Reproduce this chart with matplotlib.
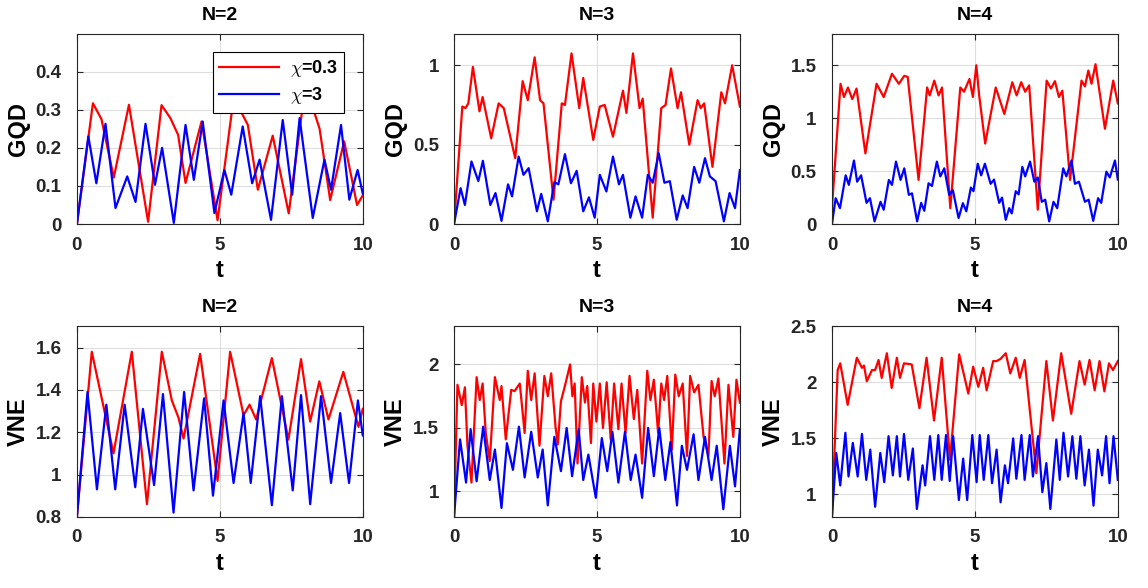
import matplotlib
matplotlib.use("Agg")
import matplotlib.pyplot as plt
from matplotlib.ticker import FormatStrFormatter

plt.rcParams['font.family'] = ['Liberation Sans', 'DejaVu Sans']
plt.rcParams['font.weight'] = 'bold'
plt.rcParams['mathtext.fontset'] = 'cm'

# (t, value), chi=0.3 -> "_a", chi=3 -> "_b"
gqd2_a = [(0, 0), (0.56, 0.317), (0.86, 0.275), (1.29, 0.122), (1.82, 0.313), (2.49, 0.006),
          (2.96, 0.312), (3.27, 0.278), (3.54, 0.234), (3.8, 0.108), (4.36, 0.269), (4.92, 0.01),
          (5.45, 0.312), (5.74, 0.295), (5.98, 0.26), (6.33, 0.09), (6.85, 0.232), (7.41, 0.028),
          (7.9, 0.31), (8.31, 0.292), (8.49, 0.25), (8.86, 0.063), (9.35, 0.217), (9.8, 0.05),
          (10, 0.075)]
gqd2_b = [(0, 0), (0.4, 0.23), (0.68, 0.107), (1.0, 0.263), (1.35, 0.042), (1.76, 0.125),
          (2.05, 0.058), (2.4, 0.263), (2.73, 0.103), (2.98, 0.2), (3.39, 0.003), (3.8, 0.26),
          (4.09, 0.116), (4.4, 0.269), (4.81, 0.029), (5.16, 0.142), (5.4, 0.077), (5.8, 0.256),
          (6.13, 0.107), (6.39, 0.169), (6.79, 0.011), (7.2, 0.273), (7.53, 0.077), (7.79, 0.278),
          (8.25, 0.016), (8.66, 0.169), (8.89, 0.09), (9.24, 0.26), (9.53, 0.064), (9.82, 0.142),
          (10, 0.08)]

gqd3_a = [(0, 0), (0.29, 0.74), (0.4, 0.73), (0.5, 0.76), (0.66, 0.99), (0.89, 0.71), (1.0, 0.8),
          (1.3, 0.54), (1.56, 0.76), (1.74, 0.73), (2.14, 0.415), (2.4, 0.9), (2.58, 0.78),
          (2.82, 1.05), (3.01, 0.78), (3.13, 0.76), (3.48, 0.153), (3.77, 0.76), (3.88, 0.75),
          (4.11, 1.075), (4.38, 0.73), (4.52, 0.92), (4.87, 0.53), (5.1, 0.74), (5.27, 0.75),
          (5.56, 0.55), (5.91, 0.84), (6.03, 0.7), (6.26, 1.075), (6.49, 0.73), (6.6, 0.79),
          (6.95, 0.04), (7.25, 0.73), (7.4, 0.75), (7.59, 0.98), (7.82, 0.73), (7.94, 0.83),
          (8.23, 0.5), (8.52, 0.78), (8.63, 0.73), (8.75, 0.76), (9.04, 0.36), (9.35, 0.83),
          (9.48, 0.76), (9.73, 1.0), (10, 0.74)]
gqd3_b = [(0, 0), (0.23, 0.226), (0.38, 0.12), (0.61, 0.394), (0.85, 0.27), (1.01, 0.398),
          (1.27, 0.12), (1.45, 0.195), (1.66, 0.02), (1.89, 0.25), (2.03, 0.174), (2.26, 0.425),
          (2.43, 0.31), (2.61, 0.352), (2.9, 0.08), (3.05, 0.19), (3.28, 0.017), (3.51, 0.264),
          (3.65, 0.25), (3.88, 0.44), (4.09, 0.257), (4.29, 0.335), (4.52, 0.08), (4.72, 0.168),
          (4.92, 0.04), (5.1, 0.31), (5.33, 0.205), (5.56, 0.425), (5.77, 0.25), (5.91, 0.31),
          (6.17, 0.04), (6.35, 0.174), (6.58, 0.04), (6.78, 0.31), (6.95, 0.26), (7.16, 0.447),
          (7.36, 0.26), (7.55, 0.27), (7.79, 0.027), (8.0, 0.18), (8.17, 0.1), (8.4, 0.36),
          (8.58, 0.26), (8.78, 0.415), (8.95, 0.3), (9.15, 0.27), (9.44, 0.017), (9.64, 0.195),
          (9.83, 0.1), (10, 0.34)]

gqd4_a = [(0, 0.15), (0.3, 1.325), (0.42, 1.2), (0.56, 1.29), (0.71, 1.18), (0.86, 1.28),
          (1.17, 0.667), (1.56, 1.325), (1.81, 1.2), (2.1, 1.42), (2.34, 1.325), (2.53, 1.4),
          (2.65, 1.39), (3.03, 0.417), (3.33, 1.29), (3.42, 1.215), (3.58, 1.355), (3.73, 1.215),
          (3.85, 1.29), (4.14, 0.15), (4.49, 1.29), (4.62, 1.25), (4.81, 1.37), (4.93, 1.2),
          (5.05, 1.5), (5.15, 1.215), (5.36, 0.76), (5.73, 1.29), (6.03, 1.04), (6.31, 1.34),
          (6.46, 1.215), (6.62, 1.34), (6.76, 1.25), (6.9, 1.31), (7.2, 0.135), (7.51, 1.355),
          (7.66, 1.28), (7.8, 1.35), (7.94, 1.2), (8.06, 1.26), (8.33, 0.417), (8.73, 1.355),
          (8.85, 1.3), (8.97, 1.45), (9.08, 1.325), (9.22, 1.51), (9.55, 0.9), (9.84, 1.355),
          (10, 1.14)]
gqd4_b = [(0, 0), (0.13, 0.244), (0.28, 0.15), (0.48, 0.46), (0.59, 0.37), (0.77, 0.6), (0.88, 0.4),
          (1.02, 0.46), (1.21, 0.2), (1.33, 0.244), (1.49, 0.025), (1.7, 0.21), (1.81, 0.135),
          (1.99, 0.416), (2.1, 0.37), (2.24, 0.59), (2.4, 0.417), (2.53, 0.526), (2.69, 0.276),
          (2.8, 0.29), (2.98, 0.025), (3.12, 0.2), (3.23, 0.125), (3.38, 0.385), (3.5, 0.36),
          (3.67, 0.59), (3.79, 0.45), (3.93, 0.526), (4.1, 0.276), (4.23, 0.32), (4.43, 0.056),
          (4.58, 0.197), (4.7, 0.12), (4.86, 0.345), (4.95, 0.31), (5.1, 0.57), (5.22, 0.46),
          (5.35, 0.57), (5.55, 0.38), (5.67, 0.42), (5.85, 0.2), (5.95, 0.25), (6.08, 0.04),
          (6.2, 0.15), (6.29, 0.1), (6.43, 0.31), (6.53, 0.28), (6.66, 0.54), (6.76, 0.45),
          (6.93, 0.59), (7.08, 0.4), (7.2, 0.44), (7.34, 0.21), (7.46, 0.23), (7.6, 0.025),
          (7.75, 0.21), (7.88, 0.15), (8.09, 0.526), (8.2, 0.45), (8.38, 0.6), (8.5, 0.38),
          (8.64, 0.4), (8.85, 0.21), (8.98, 0.23), (9.14, 0.03), (9.31, 0.244), (9.42, 0.2),
          (9.6, 0.495), (9.72, 0.44), (9.9, 0.6), (10, 0.42)]

vne2_a = [(0, 0.8), (0.52, 1.58), (1.28, 1.10), (1.92, 1.58), (2.45, 0.86), (2.97, 1.58),
          (3.32, 1.35), (3.55, 1.27), (3.73, 1.17), (4.31, 1.57), (4.92, 0.97), (5.36, 1.58),
          (5.83, 1.28), (6.04, 1.33), (6.27, 1.26), (6.82, 1.55), (7.4, 1.165), (7.84, 1.545),
          (8.16, 1.25), (8.48, 1.44), (8.8, 1.26), (9.32, 1.485), (9.85, 1.225), (10, 1.31)]
vne2_b = [(0, 0.8), (0.37, 1.39), (0.7, 0.93), (1.03, 1.33), (1.34, 0.93), (1.67, 1.33),
          (2.04, 0.94), (2.31, 1.31), (2.7, 0.95), (3.01, 1.38), (3.38, 0.82), (3.75, 1.39),
          (4.08, 0.925), (4.45, 1.36), (4.76, 0.9), (5.13, 1.35), (5.48, 0.96), (5.83, 1.29),
          (6.08, 0.96), (6.41, 1.37), (6.82, 0.855), (7.17, 1.37), (7.55, 0.925), (7.84, 1.375),
          (8.16, 0.86), (8.54, 1.37), (8.89, 0.96), (9.21, 1.29), (9.52, 0.96), (9.83, 1.35),
          (10, 1.185)]

vne3_a = [(0, 0.8), (0.12, 1.84), (0.27, 1.68), (0.38, 1.82), (0.47, 1.36), (0.61, 1.07),
          (0.79, 1.9), (0.9, 1.72), (1.0, 1.85), (1.11, 1.46), (1.25, 1.24), (1.43, 1.9),
          (1.6, 1.72), (1.66, 1.83), (1.81, 1.41), (2.0, 1.8), (2.12, 1.79), (2.3, 1.85),
          (2.47, 1.46), (2.58, 1.95), (2.7, 1.72), (2.82, 1.93), (2.99, 1.36), (3.16, 1.91),
          (3.28, 1.75), (3.4, 1.93), (3.55, 1.51), (3.63, 1.37), (3.74, 1.71), (3.9, 1.85),
          (4.06, 2.0), (4.14, 1.75), (4.22, 1.85), (4.32, 1.22), (4.47, 1.9), (4.58, 1.7),
          (4.66, 1.83), (4.79, 1.38), (4.87, 1.85), (4.98, 1.55), (5.1, 1.85), (5.21, 1.5),
          (5.34, 1.86), (5.48, 1.41), (5.6, 1.85), (5.75, 1.49), (5.86, 1.85), (6.0, 1.46),
          (6.14, 1.91), (6.29, 1.57), (6.41, 1.8), (6.58, 1.22), (6.76, 1.95), (6.87, 1.72),
          (6.99, 1.88), (7.14, 1.46), (7.25, 1.85), (7.35, 1.72), (7.46, 1.91), (7.62, 1.33),
          (7.74, 1.92), (7.86, 1.75), (8.0, 1.85), (8.15, 1.28), (8.26, 1.91), (8.4, 1.78),
          (8.55, 1.84), (8.73, 1.43), (8.9, 1.28), (9.01, 1.87), (9.12, 1.75), (9.25, 1.89),
          (9.46, 1.22), (9.6, 1.84), (9.77, 1.43), (9.88, 1.88), (10, 1.7)]
vne3_b = [(0, 0.8), (0.21, 1.41), (0.42, 1.07), (0.58, 1.49), (0.79, 1.08), (1.02, 1.51),
          (1.25, 1.09), (1.43, 1.33), (1.66, 0.87), (1.85, 1.38), (2.06, 1.17), (2.27, 1.51),
          (2.47, 1.11), (2.7, 1.47), (2.93, 1.11), (3.1, 1.33), (3.28, 0.89), (3.51, 1.43),
          (3.74, 1.16), (3.94, 1.5), (4.13, 1.12), (4.36, 1.49), (4.52, 1.09), (4.7, 1.29),
          (4.96, 0.95), (5.17, 1.42), (5.36, 1.16), (5.54, 1.47), (5.75, 1.07), (5.98, 1.47),
          (6.18, 1.09), (6.35, 1.29), (6.58, 0.95), (6.79, 1.5), (6.99, 1.12), (7.18, 1.5),
          (7.39, 1.09), (7.57, 1.39), (7.8, 0.89), (7.97, 1.36), (8.15, 1.17), (8.38, 1.45),
          (8.55, 1.09), (8.78, 1.43), (9.01, 1.09), (9.19, 1.36), (9.42, 0.86), (9.65, 1.36),
          (9.83, 1.04), (10, 1.49)]

vne4_a = [(0, 0.8), (0.2, 2.11), (0.29, 2.17), (0.55, 1.8), (0.87, 2.22), (1.05, 2.13),
          (1.12, 2.15), (1.22, 2.01), (1.4, 2.11), (1.51, 2.11), (1.63, 2.2), (1.74, 2.04),
          (1.92, 2.26), (2.09, 1.95), (2.27, 2.22), (2.38, 2.04), (2.52, 2.17), (2.79, 2.16),
          (3.06, 1.77), (3.31, 2.22), (3.57, 1.66), (3.84, 2.22), (4.13, 1.31), (4.45, 2.25),
          (4.77, 1.9), (4.94, 2.14), (5.12, 1.96), (5.29, 2.13), (5.41, 1.93), (5.64, 2.19),
          (5.76, 2.19), (5.9, 2.21), (6.08, 2.26), (6.24, 2.08), (6.43, 2.22), (6.57, 2.04),
          (6.74, 2.2), (7.15, 1.19), (7.5, 2.19), (7.73, 1.66), (8.02, 2.26), (8.37, 1.72),
          (8.66, 2.19), (8.84, 1.98), (9.01, 2.2), (9.19, 1.93), (9.36, 2.19), (9.53, 1.92),
          (9.69, 2.17), (9.83, 2.11), (10, 2.19)]
vne4_b = [(0, 0.8), (0.15, 1.37), (0.29, 1.08), (0.47, 1.55), (0.58, 1.16), (0.73, 1.46),
          (0.9, 1.16), (1.05, 1.54), (1.2, 1.13), (1.34, 1.4), (1.51, 0.89), (1.69, 1.37),
          (1.83, 1.11), (1.98, 1.52), (2.13, 1.17), (2.27, 1.52), (2.38, 1.16), (2.52, 1.54),
          (2.67, 1.13), (2.83, 1.41), (2.97, 0.87), (3.17, 1.26), (3.26, 1.08), (3.43, 1.52),
          (3.58, 1.13), (3.72, 1.53), (3.84, 1.13), (3.99, 1.53), (4.12, 1.12), (4.24, 1.52),
          (4.44, 0.95), (4.59, 1.32), (4.73, 0.95), (4.91, 1.53), (5.06, 1.11), (5.17, 1.53),
          (5.31, 1.13), (5.47, 1.53), (5.6, 1.1), (5.76, 1.4), (5.9, 0.93), (6.05, 1.26),
          (6.16, 1.1), (6.34, 1.5), (6.45, 1.14), (6.63, 1.53), (6.74, 1.13), (6.92, 1.53),
          (7.03, 1.16), (7.21, 1.52), (7.36, 1.02), (7.5, 1.28), (7.64, 0.87), (7.85, 1.49),
          (7.97, 1.13), (8.1, 1.55), (8.26, 1.16), (8.41, 1.52), (8.55, 1.14), (8.69, 1.52),
          (8.84, 1.08), (8.99, 1.4), (9.15, 0.9), (9.3, 1.4), (9.45, 1.17), (9.59, 1.52),
          (9.71, 1.1), (9.85, 1.52), (10, 1.13)]

titles = ["N=2", "N=3", "N=4"]
ylabels = ["GQD", "VNE"]
labels = [r"$\chi$=0.3", r"$\chi$=3"]
xticks = [0, 5, 10]

panels = [
    [gqd2_a, gqd2_b, (0, 0.5), [0, 0.1, 0.2, 0.3, 0.4]],
    [gqd3_a, gqd3_b, (0, 1.2), [0, 0.5, 1]],
    [gqd4_a, gqd4_b, (0, 1.8), [0, 0.5, 1, 1.5]],
    [vne2_a, vne2_b, (0.8, 1.7), [0.8, 1, 1.2, 1.4, 1.6]],
    [vne3_a, vne3_b, (0.8, 2.3), [1, 1.5, 2]],
    [vne4_a, vne4_b, (0.8, 2.5), [1, 1.5, 2, 2.5]],
]

fig = plt.figure(figsize=(11.48, 5.88), dpi=100)
lefts = [0.067, 0.3955, 0.7247]
bottoms = [0.619, 0.121]
axc = '#262626'

for i, (sa, sb, ylim, yt) in enumerate(panels):
    row, col = i // 3, i % 3
    ax = fig.add_axes([lefts[col], bottoms[row], 0.249, 0.324])
    ta, va = zip(*sa)
    tb, vb = zip(*sb)
    ax.plot(ta, va, color=(1, 0, 0), lw=1.6, label=labels[0])
    ax.plot(tb, vb, color=(0, 0, 1), lw=1.6, label=labels[1])
    ax.set_xlim(0, 10)
    ax.set_ylim(*ylim)
    ax.set_xticks(xticks)
    ax.set_yticks(yt)
    ax.yaxis.set_major_formatter(FormatStrFormatter('%g'))
    ax.grid(True, color='#dedede', lw=0.8)
    ax.set_axisbelow(True)
    ax.tick_params(direction='in', top=True, right=True, length=4, width=0.8,
                   labelsize=13.5, colors=axc, labelcolor=axc)
    ax.tick_params(axis='x', pad=9)
    ax.tick_params(axis='y', pad=11)
    for s in ax.spines.values():
        s.set_color(axc)
        s.set_linewidth(0.8)
    ax.set_title(titles[col], fontsize=14, fontweight='bold', color='black', pad=10)
    ax.set_xlabel('t', fontsize=17, fontweight='bold', color='black', labelpad=4)
    ax.set_ylabel(ylabels[row], fontsize=17, fontweight='bold', color='black', labelpad=4)
    if i == 0:
        leg = ax.legend(loc='upper right', bbox_to_anchor=(0.935, 0.905), fontsize=13,
                        fancybox=False, framealpha=1, edgecolor='black',
                        handlelength=3.3, borderpad=0.35, labelspacing=0.35,
                        handletextpad=0.6, borderaxespad=0)
        leg.get_frame().set_linewidth(0.8)

fig.savefig('out.png', dpi=100)
